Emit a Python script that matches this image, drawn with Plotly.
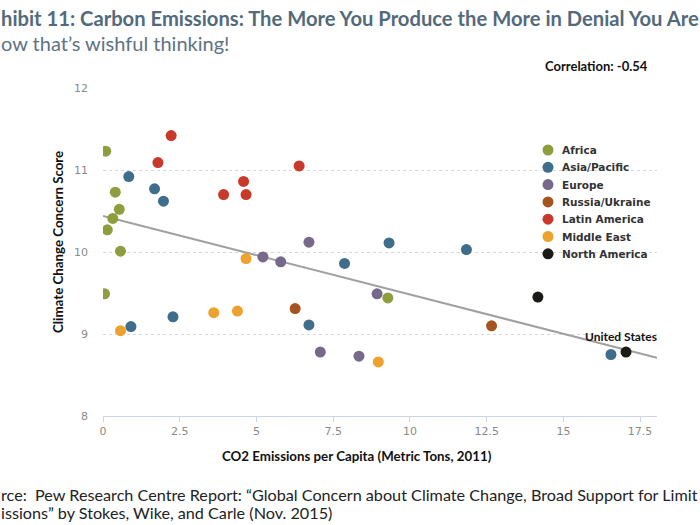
import plotly.graph_objects as go

# ---- data ----
regions = ["Africa", "Asia/Pacific", "Europe", "Russia/Ukraine",
           "Latin America", "Middle East", "North America"]
colors = ["#8e9e3e", "#3f6d8c", "#76698a", "#a5541f", "#c8392b", "#eda12e", "#1b1a17"]

africa_x = [0.09, 0.40, 0.53, 0.32, 0.14, 0.57, 0.05, 9.28]
africa_y = [11.23, 10.73, 10.52, 10.41, 10.27, 10.01, 9.49, 9.44]
asia_x = [0.84, 1.68, 1.97, 9.32, 11.84, 7.87, 0.91, 2.28, 6.71, 16.55]
asia_y = [10.92, 10.77, 10.62, 10.11, 10.03, 9.86, 9.09, 9.21, 9.11, 8.75]
europe_x = [6.71, 5.21, 5.79, 7.08, 8.93, 8.34]
europe_y = [10.12, 9.94, 9.88, 8.78, 9.49, 8.73]
russia_x = [6.26, 12.66]
russia_y = [9.31, 9.10]
latam_x = [2.22, 1.79, 6.39, 4.58, 3.93, 4.66]
latam_y = [11.42, 11.09, 11.05, 10.86, 10.70, 10.70]
mideast_x = [4.66, 0.57, 3.61, 4.38, 8.97]
mideast_y = [9.92, 9.04, 9.26, 9.28, 8.66]
namerica_x = [14.17, 17.04]
namerica_y = [9.45, 8.78]

series_x = [africa_x, asia_x, europe_x, russia_x, latam_x, mideast_x, namerica_x]
series_y = [africa_y, asia_y, europe_y, russia_y, latam_y, mideast_y, namerica_y]

trend_x = [0, 18.05]
trend_y = [10.44, 8.71]

x_ticks = [0, 2.5, 5, 7.5, 10, 12.5, 15, 17.5]
y_ticks = [8, 9, 10, 11, 12]

title_text = "hibit 11: Carbon Emissions: The More You Produce the More in Denial You Are"
subtitle_text = "ow that\u2019s wishful thinking!"
source_line1 = "rce:  Pew Research Centre Report: \u201cGlobal Concern about Climate Change, Broad Support for Limit"
source_line2 = "issions\u201d by Stokes, Wike, and Carle (Nov. 2015)"
x_title = "CO2 Emissions per Capita (Metric Tons, 2011)"
y_title = "Climate Change Concern Score"

# ---- layout constants ----
W, H = 700, 525
ML, MR, MT, MB = 103, 43, 88, 109
PW = W - ML - MR
PH = H - MT - MB


def px_x(p):
    return (p - ML) / PW


def px_y(p):
    return 1 - (p - MT) / PH


fig = go.Figure()

fig.add_trace(go.Scatter(x=trend_x, y=trend_y, mode="lines",
                         line=dict(color="#a0a0a0", width=2),
                         showlegend=False, hoverinfo="skip"))

for name, c, xs, ys in zip(regions, colors, series_x, series_y):
    fig.add_trace(go.Scatter(x=xs, y=ys, mode="markers", name=name, showlegend=False,
                             marker=dict(color=c, size=11, line=dict(width=0))))

fig.update_layout(
    width=W, height=H, autosize=False,
    margin=dict(l=ML, r=MR, t=MT, b=MB),
    paper_bgcolor="white", plot_bgcolor="white",
    font=dict(family="DejaVu Sans", color="#333"),
    showlegend=False,
    xaxis=dict(range=[0, 18.05], tickvals=x_ticks, ticktext=[str(v) for v in x_ticks],
               showgrid=False, zeroline=False, showline=True, linecolor="#ccd6eb",
               linewidth=1, ticks="outside", ticklen=5, tickcolor="#ccd6eb",
               tickfont=dict(family="DejaVu Sans", size=11, color="#8a8a8a")),
    yaxis=dict(range=[8, 12], tickvals=y_ticks, showgrid=True, gridcolor="#d8d8d8",
               griddash="dot", gridwidth=1, zeroline=False, showline=False,
               ticks="", ticklabelstandoff=14,
               tickfont=dict(family="DejaVu Sans", size=11, color="#8a8a8a")),
)

annotations = [
    dict(text="<b>" + title_text + "</b>", x=px_x(-1), y=px_y(18), xref="paper", yref="paper",
         xanchor="left", yanchor="middle", showarrow=False,
         font=dict(family="Lato", size=20.2, color="#536a7c")),
    dict(text=subtitle_text, x=px_x(-1), y=px_y(43), xref="paper", yref="paper",
         xanchor="left", yanchor="middle", showarrow=False,
         font=dict(family="Lato", size=20, color="#5d7385")),
    dict(text="<b>Correlation: -0.54</b>", x=px_x(596), y=px_y(66), xref="paper", yref="paper",
         xanchor="center", yanchor="middle", showarrow=False,
         font=dict(family="Lato", size=13, color="#111")),
    dict(text="<b>United States</b>", x=px_x(621), y=px_y(336), xref="paper", yref="paper",
         xanchor="center", yanchor="middle", showarrow=False,
         font=dict(family="Lato", size=12, color="#111")),
    dict(text="<b>" + x_title + "</b>", x=px_x(357), y=px_y(456), xref="paper", yref="paper",
         xanchor="center", yanchor="middle", showarrow=False,
         font=dict(family="Lato", size=13.3, color="#111")),
    dict(text="<b>" + y_title + "</b>", x=px_x(58), y=px_y(242), xref="paper", yref="paper",
         xanchor="center", yanchor="middle", showarrow=False, textangle=-90,
         font=dict(family="Lato", size=13.3, color="#111")),
    dict(text=source_line1, x=px_x(-1), y=px_y(494), xref="paper", yref="paper",
         xanchor="left", yanchor="middle", showarrow=False,
         font=dict(family="Lato", size=16.2, color="#222")),
    dict(text=source_line2, x=px_x(-1), y=px_y(512), xref="paper", yref="paper",
         xanchor="left", yanchor="middle", showarrow=False,
         font=dict(family="Lato", size=16.2, color="#222")),
]

# legend drawn as paper-positioned circles + labels
shapes = []
leg_x, leg_y0, leg_dy, r = 548, 150, 17.3, 5.5
for i, (name, c) in enumerate(zip(regions, colors)):
    cy = leg_y0 + i * leg_dy
    shapes.append(dict(type="circle", xref="paper", yref="paper",
                       x0=px_x(leg_x - r), x1=px_x(leg_x + r),
                       y0=px_y(cy + r), y1=px_y(cy - r),
                       fillcolor=c, line=dict(width=0)))
    annotations.append(dict(text="<b>" + name + "</b>", x=px_x(560), y=px_y(cy),
                            xref="paper", yref="paper", xanchor="left", yanchor="middle",
                            showarrow=False,
                            font=dict(family="DejaVu Sans", size=10.5, color="#333")))

fig.update_layout(annotations=annotations, shapes=shapes)

fig.write_html("out.html", config={"displayModeBar": False},
               post_script="document.body.style.margin='0';")
